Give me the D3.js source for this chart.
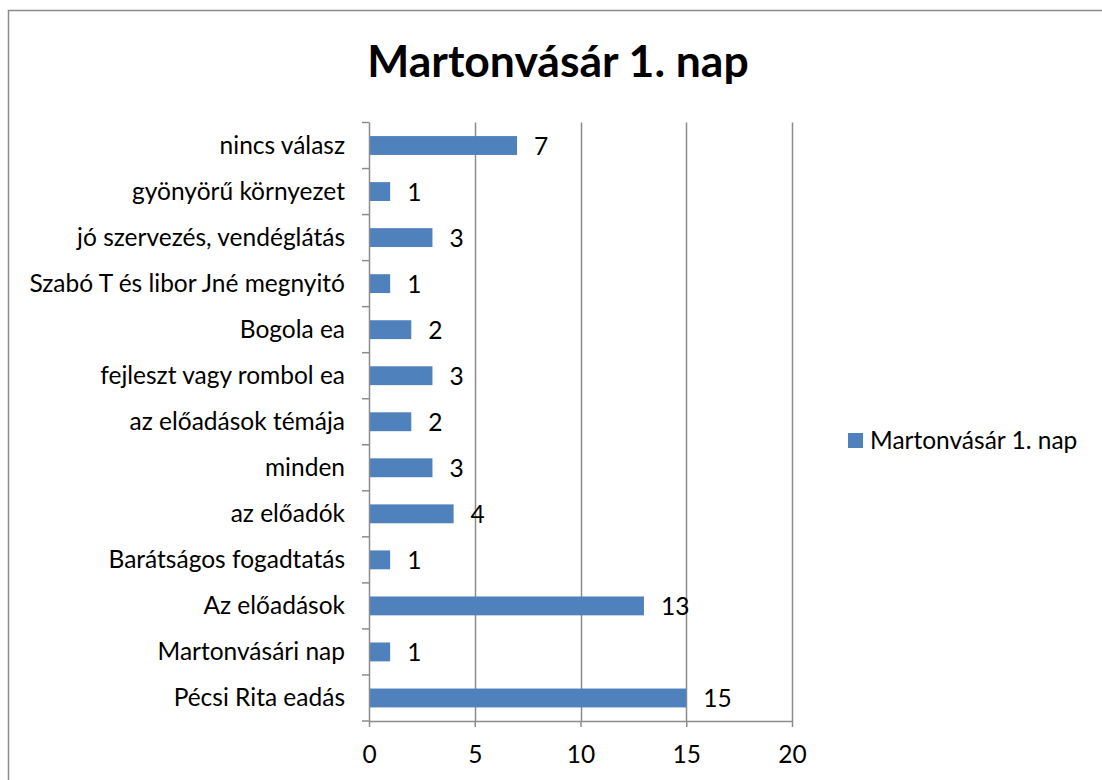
<!DOCTYPE html>
<html><head><meta charset="utf-8">
<script src="https://cdn.jsdelivr.net/npm/d3@7"></script>
<style>body{margin:0;background:#fff}svg{display:block}</style>
</head><body>
<svg id="c" width="1102" height="780"></svg>
<script>
const categories = ["nincs válasz","gyönyörű környezet","jó szervezés, vendéglátás","Szabó T és libor Jné megnyitó","Bogola ea","fejleszt vagy rombol ea","az előadások témája","minden","az előadók","Barátságos fogadtatás","Az előadások","Martonvásári nap","Pécsi Rita eadás"];
const values = [7,1,3,1,2,3,2,3,4,1,13,1,15];
const xTicks = [0,5,10,15,20];
const seriesName = "Martonvásár 1. nap";
const title = "Martonvásár 1. nap";

(function(){
const svg = d3.select("#c");
const font = "Lato, 'Open Sans', sans-serif";
const fs = 24.5;
const pL = 369, pR = 792, pT = 122.5, pB = 721;
const x = d3.scaleLinear().domain([0,20]).range([pL,pR]);
const y = d3.scaleBand().domain(categories).range([pT,pB]).paddingInner(0.59).paddingOuter(0.295);

// frame
svg.append("rect").attr("x",8.5).attr("y",10.5).attr("width",1200).attr("height",900)
  .attr("fill","none").attr("stroke","#8c8c8c").attr("stroke-width",1.5);

// gridlines
svg.append("g").selectAll("line").data(xTicks.filter(d=>d>0)).join("line")
  .attr("x1",d=>Math.round(x(d))+0.5).attr("x2",d=>Math.round(x(d))+0.5)
  .attr("y1",pT).attr("y2",pB).attr("stroke","#8c8c8c").attr("stroke-width",1.5);

// bars
svg.append("g").selectAll("rect").data(categories).join("rect")
  .attr("x",x(0)).attr("y",d=>y(d)).attr("height",y.bandwidth())
  .attr("width",(d,i)=>x(values[i])-x(0)).attr("fill","#4F81BD");

// x axis
const xa = svg.append("g").attr("transform",`translate(0,${pB})`)
  .call(d3.axisBottom(x).tickValues(xTicks).tickSize(6).tickSizeOuter(0));
xa.select(".domain").attr("stroke","#8c8c8c").attr("stroke-width",1.5);
xa.selectAll(".tick line").attr("stroke","#8c8c8c").attr("stroke-width",1.5);
xa.selectAll("text").attr("font-family",font).attr("font-size",fs).attr("fill","#000")
  .attr("y",42).attr("dy",0);

// y axis
const stepBounds = d3.range(categories.length+1).map(i=>pT + i*(pB-pT)/categories.length);
const ya = svg.append("g");
ya.append("line").attr("x1",pL+0.5).attr("x2",pL+0.5).attr("y1",pT).attr("y2",pB)
  .attr("stroke","#8c8c8c").attr("stroke-width",1.5);
ya.selectAll("line.t").data(stepBounds).join("line").attr("class","t")
  .attr("x1",pL-7).attr("x2",pL).attr("y1",d=>d).attr("y2",d=>d)
  .attr("stroke","#8c8c8c").attr("stroke-width",1.5);
ya.selectAll("text").data(categories).join("text")
  .attr("x",345).attr("y",d=>y(d)+y.bandwidth()/2+8)
  .attr("text-anchor","end").attr("font-family",font).attr("font-size",fs).attr("fill","#000")
  .text(d=>d);

// value labels
svg.append("g").selectAll("text").data(categories).join("text")
  .attr("x",(d,i)=>x(values[i])+17).attr("y",d=>y(d)+y.bandwidth()/2+9)
  .attr("font-family",font).attr("font-size",fs).attr("fill","#000")
  .text((d,i)=>values[i]);

// title
svg.append("text").attr("x",558).attr("y",77).attr("text-anchor","middle")
  .attr("font-family",font).attr("font-weight","bold").attr("font-size",44.5).attr("fill","#000")
  .text(title);

// legend
const lg = svg.append("g");
lg.append("rect").attr("x",848).attr("y",433).attr("width",15).attr("height",15).attr("fill","#4F81BD");
lg.append("text").attr("x",870).attr("y",449).attr("font-family",font).attr("font-size",fs).attr("fill","#000").text(seriesName);
})();
</script>
</body></html>
